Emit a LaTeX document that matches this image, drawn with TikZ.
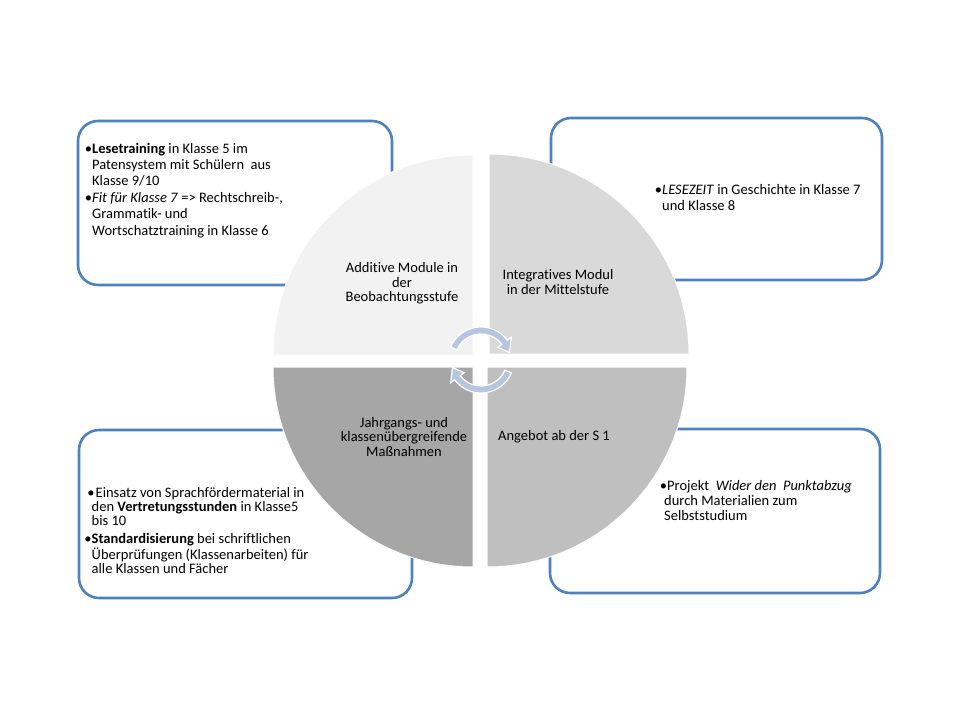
\documentclass[tikz,border=0pt]{standalone}
\usepackage{fontspec}
\setmainfont{Carlito}[Ligatures=NoCommon]
\definecolor{boxblue}{RGB}{79,129,189}
\definecolor{qtl}{RGB}{242,242,242}
\definecolor{qtr}{RGB}{217,217,217}
\definecolor{qbl}{RGB}{166,166,166}
\definecolor{qbr}{RGB}{191,191,191}
\definecolor{arrowblue}{RGB}{182,198,225}
\begin{document}
\begin{tikzpicture}[x=1pt,y=-1pt,
  boxshape/.style={draw=boxblue, line width=2.6pt, rounded corners=20pt, fill=white},
  quad/.style={draw=white, line width=1pt},
  cyclearrow/.style={fill=arrowblue, draw=white, line width=1.2pt},
  txt/.style={inner sep=0pt, anchor=base west},
  lbl/.style={inner sep=0pt, anchor=base, font=\fontsize{14.5}{14.7}\selectfont}]
\useasboundingbox (0,0) rectangle (960,720);
\fill[white] (0,0) rectangle (960,720);
% boxes
\draw[boxshape] (78,121) rectangle (392,285);
\draw[boxshape] (551,118) rectangle (882,280);
\draw[boxshape] (79,430) rectangle (412,598);
\draw[boxshape] (550,429) rectangle (880,593);
% quadrants
\filldraw[quad, fill=qtl] (473,355) -- (273,355) arc[start angle=180, end angle=90, radius=200pt] -- cycle;
\filldraw[quad, fill=qtr] (489,354) -- (489,154) arc[start angle=90, end angle=0, radius=200pt] -- cycle;
\filldraw[quad, fill=qbl] (473,367) -- (473,567) arc[start angle=270, end angle=180, radius=200pt] -- cycle;
\filldraw[quad, fill=qbr] (487,367) -- (687,367) arc[start angle=0, end angle=-90, radius=200pt] -- cycle;
% box texts
\node[txt, font=\fontsize{14.5}{16.2}\selectfont] (ttl) at (92,153) {\begin{tabular}[t]{@{}l@{}}
\llap{•}\textbf{Lesetraining} in Klasse 5 im\\
Patensystem mit Schülern\ \ aus\\
Klasse 9/10\\[1pt]
\llap{•}\textit{Fit für Klasse 7} => Rechtschreib-,\\
Grammatik- und\\
Wortschatztraining in Klasse 6
\end{tabular}};
\node[txt, font=\fontsize{14.5}{16}\selectfont] (ttr) at (662,194) {\begin{tabular}[t]{@{}l@{}}
\llap{•}\textit{LESEZEIT} in Geschichte in Klasse 7\\
und Klasse 8
\end{tabular}};
\node[txt, font=\fontsize{14.5}{14.2}\selectfont] (tbl) at (91.5,497) {\begin{tabular}[t]{@{}l@{}}
\hspace*{4pt}\llap{•\hspace{1pt}}Einsatz von Sprachfördermaterial in\\
den \textbf{Vertretungsstunden} in Klasse5\\
bis 10\\[3.5pt]
\llap{•}\textbf{Standardisierung} bei schriftlichen\\
Überprüfungen (Klassenarbeiten) für\\
alle Klassen und Fächer
\end{tabular}};
\node[txt, font=\fontsize{14.5}{15.3}\selectfont] (tbr) at (664,490) {\begin{tabular}[t]{@{}l@{}}
\hspace*{3pt}\llap{•}Projekt\ \ \textit{Wider den\ \ Punktabzug}\\
durch Materialien zum\\
Selbststudium
\end{tabular}};
% quadrant labels
\node[lbl] (ltl) at (402,272.3) {\begin{tabular}[t]{@{}c@{}}Additive Module in\\der\\Beobachtungsstufe\end{tabular}};
\node[lbl] (ltr) at (558,279.3) {\begin{tabular}[t]{@{}c@{}}Integratives Modul\\in der Mittelstufe\end{tabular}};
\node[lbl] (lbl) at (404,427) {\begin{tabular}[t]{@{}c@{}}Jahrgangs- und\\klassenübergreifende\\Maßnahmen\end{tabular}};
\node[lbl] (lbr) at (554,440) {\begin{tabular}[t]{@{}c@{}}Angebot ab der S 1\end{tabular}};
% circular arrows
\begin{scope}[shift={(481,360)}]
\filldraw[cyclearrow] (157:33pt) arc[start angle=157, end angle=37, radius=33pt] -- (37:38pt) -- (15:29.5pt) -- (37:21pt) -- (37:26pt) arc[start angle=37, end angle=157, radius=26pt] -- cycle;
\filldraw[cyclearrow] (-23:33pt) arc[start angle=-23, end angle=-143, radius=33pt] -- (-143:38pt) -- (-165:29.5pt) -- (-143:21pt) -- (-143:26pt) arc[start angle=-143, end angle=-23, radius=26pt] -- cycle;
\end{scope}
\end{tikzpicture}
\end{document}
